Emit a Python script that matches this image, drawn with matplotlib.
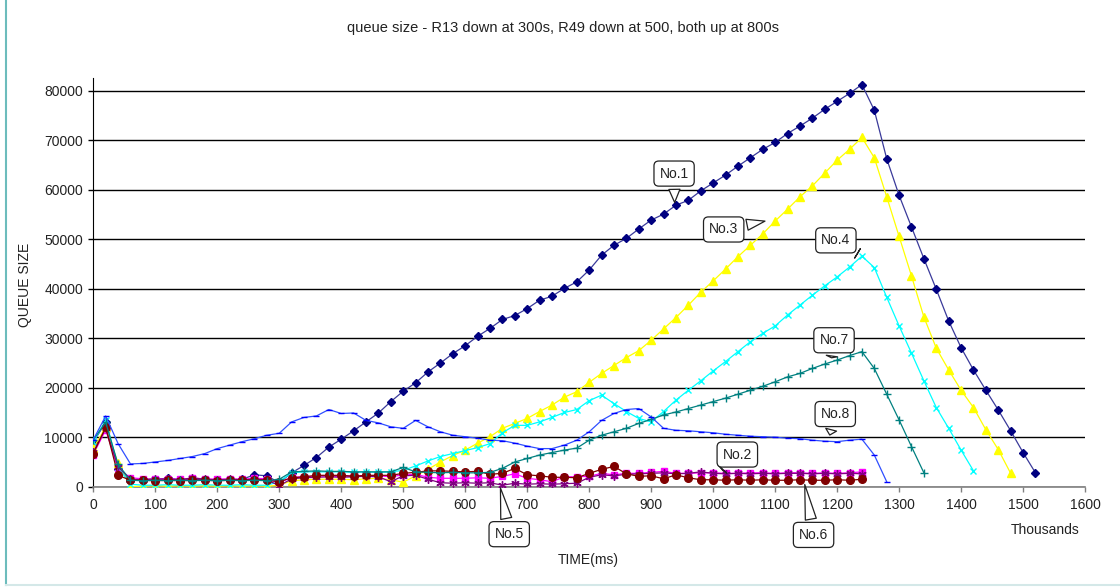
import matplotlib
matplotlib.use("Agg")
import matplotlib.pyplot as plt
from matplotlib.lines import Line2D

plt.rcParams['font.family'] = ['Liberation Sans', 'DejaVu Sans']

# sample times, thousands of ms
t = list(range(0, 1540, 20))

# queue sizes per node, one sample every 20 (thousand ms)
no1 = [9000, 13000, 3500, 1200, 1400, 1300, 1800, 1400, 1500, 1400,
       1300, 1400, 1500, 2400, 2200, 800, 2800, 4300, 5900, 8000,
       9600, 11300, 13100, 14900, 17200, 19300, 21000, 23200, 25000, 26900,
       28500, 30400, 32000, 33800, 34600, 36000, 37700, 38500, 40100, 41400,
       43800, 46800, 48800, 50200, 52100, 53900, 55100, 56900, 57900, 59800,
       61400, 63000, 64800, 66500, 68200, 69600, 71400, 72900, 74500, 76300,
       77900, 79500, 81300, 76100, 66300, 58900, 52500, 46100, 39900, 33500,
       28100, 23600, 19500, 15500, 11300, 6900, 2800]
no2 = [6500, 11500, 3700, 1800, 1600, 1500, 1600, 1500, 1700, 1600,
       1500, 1600, 1500, 1700, 1600, 800, 1900, 2000, 2100, 2200,
       2000, 2300, 2100, 2200, 2000, 2400, 2500, 1900, 1700, 1700,
       1700, 1800, 1700, 2100, 2600, 1700, 1400, 1000, 2000, 2000,
       2100, 2700, 2400, 2700, 2700, 2900, 3100, 2700, 2700, 2800,
       2800, 2700, 2700, 2800, 2800, 2700, 2800, 2800, 2700, 2800,
       2700, 2800, 3000]
no3 = [7800, 12000, 4700, 0, 100, 200, 100, 200, 100, 200,
       100, 200, 100, 200, 100, 300, 1200, 1400, 1500, 1500,
       1500, 1400, 1600, 1700, 1400, 900, 2200, 3500, 5000, 6300,
       7400, 8800, 10100, 11800, 12800, 13800, 15200, 16500, 18100, 19200,
       21100, 22900, 24500, 26100, 27500, 29600, 31900, 34200, 36700, 39300,
       41600, 44000, 46500, 48800, 51100, 53700, 56100, 58600, 60800, 63400,
       66000, 68200, 70600, 66500, 58600, 50600, 42600, 34300, 28000, 23600,
       19500, 16000, 11500, 7500, 2700]
no4 = [9000, 13500, 4000, 500, 300, 300, 400, 300, 300, 400,
       300, 300, 400, 300, 300, 1000, 2800, 3000, 3000, 3000,
       3000, 2900, 3000, 2900, 3000, 3300, 4200, 5200, 6100, 6700,
       7300, 7900, 8700, 10900, 12400, 12400, 13100, 14000, 15000, 15600,
       17400, 18500, 16800, 15200, 13800, 13100, 15200, 17500, 19500, 21400,
       23400, 25300, 27300, 29300, 31000, 32500, 34700, 36700, 38700, 40600,
       42400, 44400, 46600, 44300, 38300, 32500, 27000, 21400, 16000, 11800,
       7400, 3200]
no5 = [7000, 11800, 4000, 1500, 1400, 1600, 1500, 1400, 1800, 1500,
       1400, 1500, 1400, 1500, 1400, 200, 1600, 1800, 1900, 2000,
       1900, 2000, 2100, 2000, 1000, 2200, 2300, 1500, 800, 700,
       800, 700, 800, 300, 700, 500, 600, 500, 600, 700,
       1900, 2400, 2200, 2500, 2600, 2700, 2800, 2600, 2700, 3000,
       2700, 2600, 2700, 2600, 2700, 2600, 2700, 2700, 2600, 2700,
       2600, 2700, 2600]
no6 = [6700, 12000, 2300, 1300, 1300, 1200, 1300, 1200, 1300, 1300,
       1200, 1300, 1300, 1400, 1300, 1000, 1800, 2000, 2300, 2300,
       2300, 2100, 2300, 2300, 2300, 2700, 2900, 3200, 3200, 3100,
       3000, 3100, 2500, 2700, 3700, 2400, 2200, 1900, 1900, 1800,
       2700, 3500, 4100, 2600, 2100, 2200, 1600, 2400, 1800, 1400,
       1400, 1300, 1400, 1300, 1400, 1300, 1300, 1400, 1300, 1300,
       1400, 1300, 1500]
no7 = [9500, 13000, 4500, 1300, 1200, 1300, 1200, 1300, 1200, 1300,
       1200, 1300, 1200, 1300, 1200, 1500, 3000, 3100, 3200, 3100,
       3100, 3000, 3000, 3000, 3000, 3900, 3000, 2900, 2800, 2900,
       2800, 2800, 2900, 3700, 5000, 5700, 6400, 6900, 7400, 7800,
       9400, 10400, 11100, 11800, 12800, 13600, 14500, 15100, 15800, 16500,
       17200, 17900, 18700, 19500, 20300, 21200, 22200, 22900, 23900, 24800,
       25600, 26500, 27300, 23900, 18700, 13500, 8100, 2800]
no8 = [9500, 14300, 8700, 4600, 4700, 5000, 5300, 5700, 6100, 6700,
       7700, 8400, 9100, 9700, 10400, 10800, 13100, 14000, 14300, 15600,
       14800, 14900, 13400, 12900, 12100, 11800, 13400, 12100, 11100, 10400,
       10100, 9800, 9400, 9300, 8800, 8200, 7700, 7700, 8400, 9400,
       11100, 13400, 14800, 15600, 15800, 14100, 11800, 11400, 11300, 11100,
       10900, 10600, 10400, 10200, 10100, 10000, 9800, 9700, 9400, 9200,
       9100, 9400, 9600, 6400, 1000]

series = [
    (no1, '#000080', '#3a3a9a', 'D', 4.5),
    (no2, '#ff00ff', '#ff00ff', 's', 4.5),
    (no3, '#ffff00', '#ffff00', '^', 6),
    (no4, '#00ffff', '#00ffff', 'x', 5),
    (no5, '#800080', '#800080', (6, 2, 0), 6),
    (no6, '#800000', '#800000', 'o', 5.5),
    (no7, '#008080', '#008080', '+', 6),
    (no8, '#0000ff', '#2f4fff', '_', 4),
]

fig = plt.figure(figsize=(11.2, 5.88), dpi=100)
ax = fig.add_axes([0.0833, 0.1723, 0.8855, 0.6946])

for vals, mcol, lcol, mk, ms in series:
    ax.plot(t[:len(vals)], vals, color=lcol, lw=0.9, marker=mk, ms=ms,
            mec=mcol, mfc=mcol, mew=1.0, zorder=3)

ax.set_xlim(0, 1600)
ax.set_ylim(0, 82570)
ax.set_xticks(range(0, 1700, 100))
ax.set_yticks(range(0, 90000, 10000))
ax.yaxis.grid(True, color='black', lw=1.0)
ax.set_axisbelow(True)

for s in ['top', 'right']:
    ax.spines[s].set_visible(False)
ax.spines['left'].set_color('black')
ax.spines['bottom'].set_color('#808080')
ax.spines['bottom'].set_linewidth(1.2)
ax.tick_params(axis='x', direction='out', length=3.5, width=1, color='#808080',
               pad=5, labelsize=10, labelcolor='#222222')
ax.tick_params(axis='y', direction='out', length=3.5, width=1, color='black',
               pad=4, labelsize=10, labelcolor='#222222')

fig.text(563 / 1120, 1 - 28 / 588, 'queue size - R13 down at 300s, R49 down at 500, both up at 800s',
         ha='center', va='center', fontsize=10.5, color='#222222')
fig.text(25 / 1120, 1 - 285 / 588, 'QUEUE SIZE', rotation=90, ha='center', va='center',
         fontsize=10, color='#222222')
fig.text(588 / 1120, 1 - 560 / 588, 'TIME(ms)', ha='center', va='center', fontsize=10, color='#222222')
fig.text(1045 / 1120, 1 - 530 / 588, 'Thousands', ha='center', va='center', fontsize=10, color='#222222')

# callout labels: (text, pointer tip, box centre)
callouts = [
    ('No.1', (938, 56900), (937, 63300)),
    ('No.3', (1088, 53800), (1017, 52000)),
    ('No.4', (1233, 47150), (1198, 49800)),
    ('No.7', (1191, 26060), (1195, 29600)),
    ('No.8', (1187, 9900), (1197, 14690)),
    ('No.2', (1015, 3370), (1039, 6500)),
    ('No.5', (656, 300), (671, -9600)),
    ('No.6', (1147, 1010), (1162, -9750)),
]
for txt, tip, box in callouts:
    ax.annotate(txt, xy=tip, xytext=box, ha='center', va='center', fontsize=10,
                color='#222222', annotation_clip=False, zorder=5,
                bbox=dict(boxstyle='round,pad=0.4,rounding_size=0.35', fc='white', ec='#222222', lw=0.9),
                arrowprops=dict(arrowstyle='wedge,tail_width=0.8,shrink_factor=0.5',
                                fc='white', ec='#222222', lw=0.9))

# chart frame
fig.add_artist(Line2D([6 / 1120, 6 / 1120], [0.005, 1], transform=fig.transFigure,
                      color='#6cbcbc', lw=1.5))
fig.add_artist(Line2D([6 / 1120, 1], [0.005, 0.005], transform=fig.transFigure,
                      color='#d4e8e8', lw=1.5))

fig.savefig('out.png', dpi=100)
